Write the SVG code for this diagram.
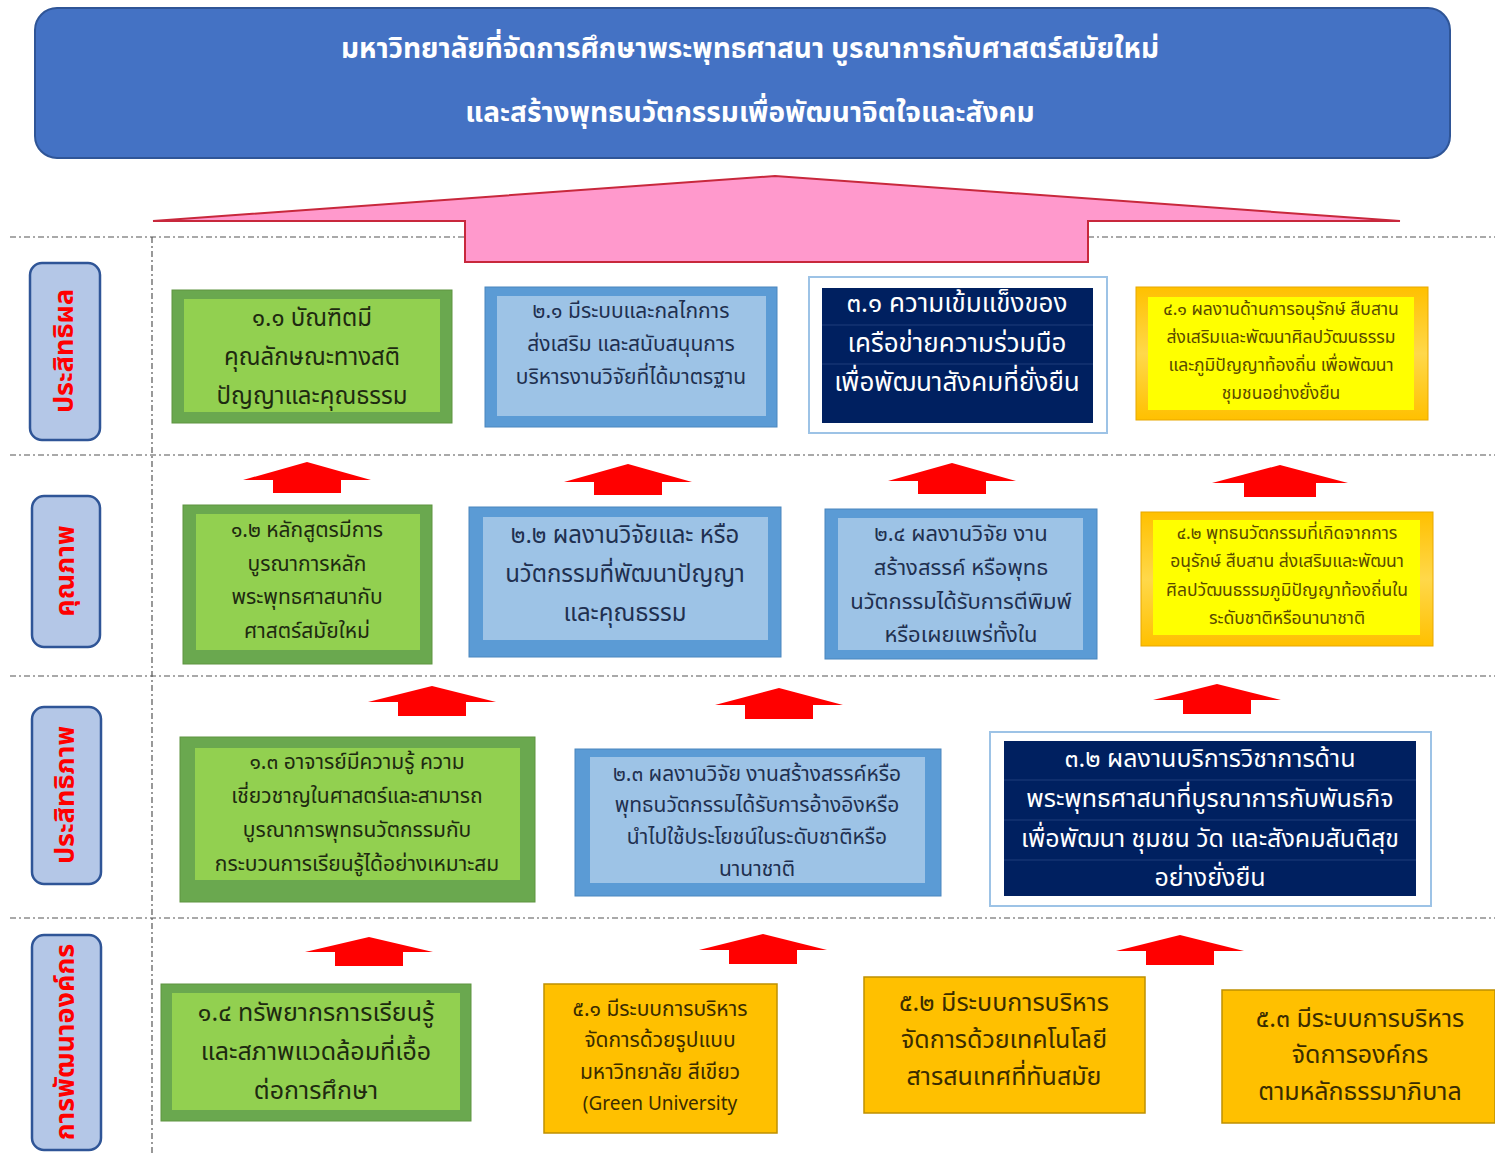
<svg xmlns="http://www.w3.org/2000/svg" width="1495" height="1154" viewBox="0 0 1495 1154">
<defs>
<style>
text{font-family:"Noto Sans Thai","Noto Sans","DejaVu Sans","Liberation Sans",sans-serif;text-anchor:middle;dominant-baseline:middle}
.title{fill:#fff;font-size:28px;font-weight:bold}
.side{fill:#B4C7E7;stroke:#2F5597;stroke-width:2.5}
.sidet{fill:#FF0000;font-size:27px;font-weight:bold}
.gO{fill:#6AA84F;stroke:#5E9440;stroke-width:1}
.gI{fill:#92D050}
.gT{fill:#1E2A10}
.bO{fill:#5B9BD5;stroke:#4A86BE;stroke-width:1}
.bI{fill:#9DC3E6}
.bT{fill:#1F3050}
.nO{fill:#fff;stroke:#9DC3E6;stroke-width:2}
.nI{fill:#002060}
.nT{fill:#fff}
.nL{stroke:#1E3C7A;stroke-width:1}
.yO{fill:url(#gold);stroke:#E8A800;stroke-width:1}
.yI{fill:#FFFF00}
.yT{fill:#5A4A00}
.oB{fill:#FFC000;stroke:#BF9000;stroke-width:1.5}
.oT{fill:#3A2C00}
.sep{stroke:#555;stroke-width:1.2;stroke-dasharray:6 3 2 3;fill:none}
.up{fill:#FF0000}
</style>
<linearGradient id="gold" x1="0" y1="0" x2="0" y2="1">
<stop offset="0" stop-color="#FFC000"/>
<stop offset="0.5" stop-color="#FFD84A"/>
<stop offset="1" stop-color="#FFC000"/>
</linearGradient>
</defs>
<rect width="1495" height="1154" fill="#fff"/>

<g id="title">
<rect x="35" y="8" width="1415" height="150" rx="22" fill="#4472C4" stroke="#2F5597" stroke-width="2"/>
<text class="title" x="750" y="50">มหาวิทยาลัยที่จัดการศึกษาพระพุทธศาสนา บูรณาการกับศาสตร์สมัยใหม่</text>
<text class="title" x="750" y="114">และสร้างพุทธนวัตกรรมเพื่อพัฒนาจิตใจและสังคม</text>
</g>

<g id="separators">
<line class="sep" x1="10" y1="237" x2="465" y2="237"/>
<line class="sep" x1="1088" y1="237" x2="1495" y2="237"/>
<line class="sep" x1="10" y1="455" x2="1495" y2="455"/>
<line class="sep" x1="10" y1="676" x2="1495" y2="676"/>
<line class="sep" x1="10" y1="918" x2="1495" y2="918"/>
<line class="sep" x1="152" y1="237" x2="152" y2="1154"/>
</g>

<g id="big-arrow">
<polygon points="153,221 775,176 1400,221 1088,221 1088,262 465,262 465,221" fill="#FF99CC" stroke="#C8283C" stroke-width="2"/>
</g>

<g id="side-1">
<rect class="side" x="30" y="263" width="70" height="177" rx="12"/>
<text class="sidet" transform="translate(65,351) rotate(-90)">ประสิทธิผล</text>
</g>
<g id="side-2">
<rect class="side" x="32" y="496" width="68" height="151" rx="12"/>
<text class="sidet" transform="translate(66,571) rotate(-90)">คุณภาพ</text>
</g>
<g id="side-3">
<rect class="side" x="32" y="707" width="69" height="177" rx="12"/>
<text class="sidet" transform="translate(66,795) rotate(-90)">ประสิทธิภาพ</text>
</g>
<g id="side-4">
<rect class="side" x="32" y="935" width="69" height="215" rx="12"/>
<text class="sidet" transform="translate(66,1042) rotate(-90)">การพัฒนาองค์กร</text>
</g>

<!-- Row 1 -->
<g id="n11">
<rect class="gO" x="172" y="290" width="280" height="133"/>
<rect class="gI" x="184" y="299" width="256" height="113"/>
<g class="gT" font-size="24"><text x="312" y="319">๑.๑ บัณฑิตมี</text><text x="312" y="358">คุณลักษณะทางสติ</text><text x="312" y="397">ปัญญาและคุณธรรม</text></g>
</g>
<g id="n21">
<rect class="bO" x="485" y="287" width="292" height="140"/>
<rect class="bI" x="497" y="296" width="269" height="120"/>
<g class="bT" font-size="21"><text x="631" y="312">๒.๑ มีระบบและกลไกการ</text><text x="631" y="345">ส่งเสริม และสนับสนุนการ</text><text x="631" y="378">บริหารงานวิจัยที่ได้มาตรฐาน</text></g>
</g>
<g id="n31">
<rect class="nO" x="809" y="277" width="298" height="156"/>
<rect class="nI" x="822" y="288" width="271" height="135"/>
<line class="nL" x1="822" y1="325" x2="1093" y2="325"/>
<line class="nL" x1="822" y1="364" x2="1093" y2="364"/>
<g class="nT" font-size="26"><text x="957" y="305">๓.๑ ความเข้มแข็งของ</text><text x="957" y="345">เครือข่ายความร่วมมือ</text><text x="957" y="384">เพื่อพัฒนาสังคมที่ยั่งยืน</text></g>
</g>
<g id="n41">
<rect class="yO" x="1136" y="287" width="292" height="133"/>
<rect class="yI" x="1148" y="297" width="266" height="113"/>
<g class="yT" font-size="17.5"><text x="1281" y="310">๔.๑ ผลงานด้านการอนุรักษ์ สืบสาน</text><text x="1281" y="338">ส่งเสริมและพัฒนาศิลปวัฒนธรรม</text><text x="1281" y="366">และภูมิปัญญาท้องถิ่น เพื่อพัฒนา</text><text x="1281" y="394">ชุมชนอย่างยั่งยืน</text></g>
</g>

<!-- Row 2 -->
<g id="n12">
<rect class="gO" x="183" y="505" width="249" height="159"/>
<rect class="gI" x="196" y="514" width="224" height="136"/>
<g class="gT" font-size="21"><text x="307" y="531">๑.๒ หลักสูตรมีการ</text><text x="307" y="565">บูรณาการหลัก</text><text x="307" y="598">พระพุทธศาสนากับ</text><text x="307" y="632">ศาสตร์สมัยใหม่</text></g>
</g>
<g id="n22">
<rect class="bO" x="469" y="507" width="312" height="150"/>
<rect class="bI" x="483" y="517" width="285" height="123"/>
<g class="bT" font-size="24"><text x="625" y="536">๒.๒ ผลงานวิจัยและ หรือ</text><text x="625" y="575">นวัตกรรมที่พัฒนาปัญญา</text><text x="625" y="614">และคุณธรรม</text></g>
</g>
<g id="n24">
<rect class="bO" x="825" y="509" width="272" height="150"/>
<rect class="bI" x="838" y="518" width="245" height="132"/>
<g class="bT" font-size="22"><text x="961" y="535">๒.๔ ผลงานวิจัย งาน</text><text x="961" y="569">สร้างสรรค์ หรือพุทธ</text><text x="961" y="603">นวัตกรรมได้รับการตีพิมพ์</text><text x="961" y="636">หรือเผยแพร่ทั้งใน</text></g>
</g>
<g id="n42">
<rect class="yO" x="1141" y="512" width="292" height="134"/>
<rect class="yI" x="1153" y="520" width="267" height="115"/>
<g class="yT" font-size="17.5"><text x="1287" y="534">๔.๒ พุทธนวัตกรรมที่เกิดจากการ</text><text x="1287" y="562">อนุรักษ์ สืบสาน ส่งเสริมและพัฒนา</text><text x="1287" y="591">ศิลปวัฒนธรรมภูมิปัญญาท้องถิ่นใน</text><text x="1287" y="619">ระดับชาติหรือนานาชาติ</text></g>
</g>

<!-- Row 3 -->
<g id="n13">
<rect class="gO" x="180" y="737" width="355" height="165"/>
<rect class="gI" x="195" y="748" width="325" height="132"/>
<g class="gT" font-size="21"><text x="357" y="763">๑.๓ อาจารย์มีความรู้ ความ</text><text x="357" y="797">เชี่ยวชาญในศาสตร์และสามารถ</text><text x="357" y="831">บูรณาการพุทธนวัตกรรมกับ</text><text x="357" y="865">กระบวนการเรียนรู้ได้อย่างเหมาะสม</text></g>
</g>
<g id="n23">
<rect class="bO" x="575" y="749" width="366" height="147"/>
<rect class="bI" x="590" y="757" width="335" height="126"/>
<g class="bT" font-size="21"><text x="757" y="775">๒.๓ ผลงานวิจัย งานสร้างสรรค์หรือ</text><text x="757" y="806">พุทธนวัตกรรมได้รับการอ้างอิงหรือ</text><text x="757" y="838">นำไปใช้ประโยชน์ในระดับชาติหรือ</text><text x="757" y="870">นานาชาติ</text></g>
</g>
<g id="n32">
<rect class="nO" x="990" y="732" width="441" height="174"/>
<rect class="nI" x="1004" y="741" width="412" height="155"/>
<line class="nL" x1="1004" y1="780" x2="1416" y2="780"/>
<line class="nL" x1="1004" y1="820" x2="1416" y2="820"/>
<line class="nL" x1="1004" y1="860" x2="1416" y2="860"/>
<g class="nT" font-size="25"><text x="1210" y="760">๓.๒ ผลงานบริการวิชาการด้าน</text><text x="1210" y="800">พระพุทธศาสนาที่บูรณาการกับพันธกิจ</text><text x="1210" y="840">เพื่อพัฒนา ชุมชน วัด และสังคมสันติสุข</text><text x="1210" y="879">อย่างยั่งยืน</text></g>
</g>

<!-- Row 4 -->
<g id="n14">
<rect class="gO" x="161" y="984" width="310" height="137"/>
<rect class="gI" x="172" y="993" width="288" height="117"/>
<g class="gT" font-size="25"><text x="316" y="1014">๑.๔ ทรัพยากรการเรียนรู้</text><text x="316" y="1053">และสภาพแวดล้อมที่เอื้อ</text><text x="316" y="1092">ต่อการศึกษา</text></g>
</g>
<g id="n51">
<rect class="oB" x="544" y="984" width="233" height="149"/>
<g class="oT" font-size="21"><text x="660" y="1010">๕.๑ มีระบบการบริหาร</text><text x="660" y="1041">จัดการด้วยรูปแบบ</text><text x="660" y="1073">มหาวิทยาลัย สีเขียว</text><text x="660" y="1105" font-size="19">(Green University</text></g>
</g>
<g id="n52">
<rect class="oB" x="864" y="977" width="281" height="136"/>
<g class="oT" font-size="25"><text x="1004" y="1004">๕.๒ มีระบบการบริหาร</text><text x="1004" y="1041">จัดการด้วยเทคโนโลยี</text><text x="1004" y="1078">สารสนเทศที่ทันสมัย</text></g>
</g>
<g id="n53">
<rect class="oB" x="1222" y="990" width="273" height="133"/>
<g class="oT" font-size="25"><text x="1360" y="1020">๕.๓ มีระบบการบริหาร</text><text x="1360" y="1056">จัดการองค์กร</text><text x="1360" y="1093">ตามหลักธรรมาภิบาล</text></g>
</g>

<g id="connectors">
<polygon class="up" points="307,462 371,480 341,480 341,493 273,493 273,480 243,480"/>
<polygon class="up" points="628,464 692,482 662,482 662,495 594,495 594,482 564,482"/>
<polygon class="up" points="952,463 1016,481 986,481 986,494 918,494 918,481 888,481"/>
<polygon class="up" points="1280,465 1348,483 1316,483 1316,497 1244,497 1244,483 1212,483"/>
<polygon class="up" points="432,686 496,702 466,702 466,716 398,716 398,702 368,702"/>
<polygon class="up" points="779,688 843,705 813,705 813,719 745,719 745,705 715,705"/>
<polygon class="up" points="1217,684 1281,700 1251,700 1251,714 1183,714 1183,700 1153,700"/>
<polygon class="up" points="369,937 433,952 403,952 403,966 335,966 335,952 305,952"/>
<polygon class="up" points="763,934 827,950 797,950 797,964 729,964 729,950 699,950"/>
<polygon class="up" points="1180,935 1244,951 1214,951 1214,965 1146,965 1146,951 1116,951"/>
</g>
</svg>
